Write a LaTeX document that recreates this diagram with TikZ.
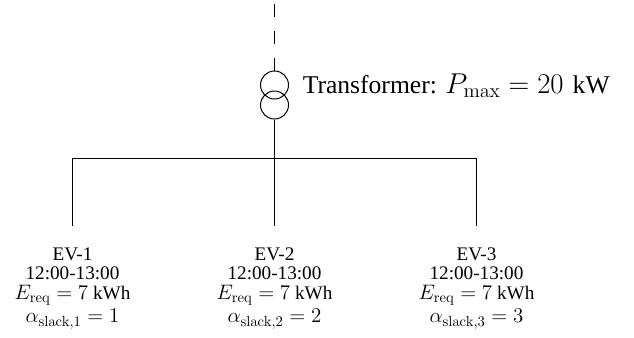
\RequirePackage{fix-cm}
\documentclass[tikz,border=0pt]{standalone}
\usepackage[no-math]{fontspec}
\setmainfont{Liberation Serif}
\tikzset{
  every picture/.style={x=0.75pt,y=-0.75pt},
  wire/.style={line width=0.75pt,black},
  coil/.style={circle,draw,line width=0.75pt,minimum size=21pt,inner sep=0pt},
  evlabel/.style={align=center,anchor=north,inner sep=0pt,font=\fontsize{14.4}{14.6}\selectfont},
  txlabel/.style={anchor=base west,inner sep=0pt,font=\fontsize{19.2}{22}\selectfont},
}
\newcommand{\mathbig}{\fontsize{15.7}{14.6}\selectfont}
\newcommand{\evtext}[2]{EV-#1\\12:00-13:00\\{\mathbig$E_{\mathrm{req}}=7$} kWh\\[2pt]{\mathbig$\alpha_{\mathrm{slack},#1}=#2$}}
\begin{document}
\begin{tikzpicture}
\useasboundingbox (0,0) rectangle (634,337);
\coordinate (top) at (274.5,4);
\node[coil] (c1) at (274.5,85) {};
\node[coil] (c2) at (274.5,105) {};
\coordinate (busL) at (72.5,158.5);
\coordinate (busM) at (274.5,158.5);
\coordinate (busR) at (476.5,158.5);
\coordinate (d1) at (72.5,226);
\coordinate (d2) at (274.5,226);
\coordinate (d3) at (476.5,226);
\draw[wire,dash pattern=on 9.75pt off 10.5pt] (top) -- (c1.north);
\draw[wire] (c2.south) -- (d2);
\draw[wire] (d1) -- (busL) -- (busR) -- (d3);
\node[txlabel] (tx) at (302.5,93) {Transformer: {\fontsize{21.5}{22}\selectfont$P_{\mathrm{max}}=20$}\hspace{2pt} kW};
\node[evlabel] (ev1) at (72.5,247.5) {\evtext{1}{1}};
\node[evlabel] (ev2) at (274.5,247.5) {\evtext{2}{2}};
\node[evlabel] (ev3) at (476.5,247.5) {\evtext{3}{3}};
\end{tikzpicture}
\end{document}
